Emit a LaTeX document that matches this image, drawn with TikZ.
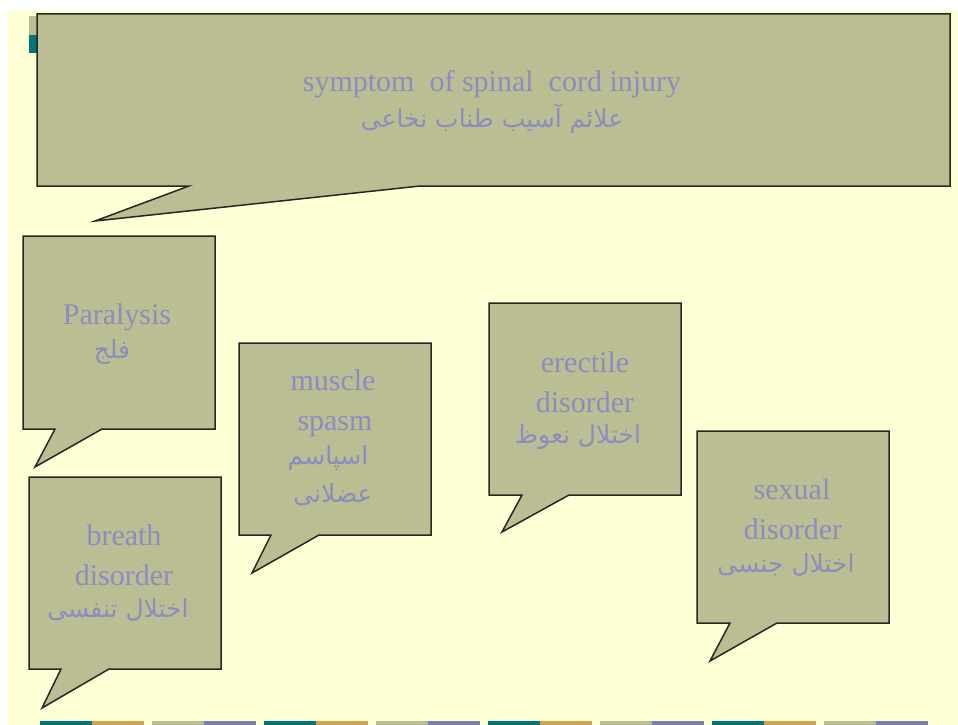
\documentclass[tikz,border=0pt]{standalone}
\usepackage{fontspec}
\setmainfont{Liberation Serif}
\newfontfamily\arabicfont[Script=Arabic]{DejaVu Sans}
\TeXXeTstate=1
\definecolor{bgyellow}{RGB}{255,255,213}
\definecolor{calfill}{RGB}{187,190,146}
\definecolor{txtpurple}{RGB}{140,140,192}
\definecolor{stripteal}{RGB}{0,118,118}
\definecolor{striptan}{RGB}{208,162,82}
\definecolor{stripgray}{RGB}{187,190,146}
\definecolor{strippurple}{RGB}{128,126,176}
\tikzset{
  calloutbox/.style={fill=calfill, draw=black!85, line width=1.5pt, line join=miter},
  en/.style={text=txtpurple, inner sep=0pt, anchor=base, font=\fontsize{30}{34}\selectfont},
  fa/.style={text=txtpurple, inner sep=0pt, font=\arabicfont\fontsize{25}{30}\selectfont},
}
\begin{document}
\begin{tikzpicture}[x=1pt,y=-1pt]
\useasboundingbox (0,0) rectangle (958,725);
% background
\fill[white] (0,0) rectangle (958,725);
\fill[bgyellow] (8,10) rectangle (958,725);
% small partly hidden marks top left
\fill[stripgray] (29,16) rectangle (38,35);
\fill[stripteal] (29,35) rectangle (38,53);
% bottom strip
\foreach \x/\ca/\cb in {40/stripteal/striptan,152/stripgray/strippurple,264/stripteal/striptan,376/stripgray/strippurple,488/stripteal/striptan,600/stripgray/strippurple,712/stripteal/striptan,824/stripgray/strippurple}{
  \fill[\ca] (\x,721) rectangle ++(52,4);
  \fill[\cb] (\x+52,721) rectangle ++(52,4);
}
% big callout
\draw[calloutbox] (37,14) -- (950,14) -- (950,186) -- (420,186) -- (95,221) -- (189,186) -- (37,186) -- cycle;
% paralysis
\draw[calloutbox] (23,236) -- (215,236) -- (215,429) -- (102,429) -- (35,467) -- (55,429) -- (23,429) -- cycle;
% muscle spasm
\draw[calloutbox] (239,343) -- (431,343) -- (431,535) -- (319,535) -- (252,573) -- (271,535) -- (239,535) -- cycle;
% erectile
\draw[calloutbox] (489,303) -- (681,303) -- (681,495) -- (569,495) -- (502,532) -- (522,495) -- (489,495) -- cycle;
% sexual
\draw[calloutbox] (697,431) -- (889,431) -- (889,623) -- (777,623) -- (710,661) -- (730,623) -- (697,623) -- cycle;
% breath
\draw[calloutbox] (29,477) -- (221,477) -- (221,669) -- (109,669) -- (42,708) -- (61,669) -- (29,669) -- cycle;
% texts
\node[en] (t1) at (492,91) {symptom\ \ of spinal\ \ cord injury};
\node[fa] (t2) at (492,119) {\beginR علائم آسیب طناب نخاعی\endR};
\node[en] (p1) at (117,324) {Paralysis};
\node[fa] (p2) at (112,352) {\beginR فلج\endR};
\node[en] (m1) at (333,390) {muscle};
\node[en] (m2) at (335,430) {spasm};
\node[fa] (m3) at (328,458) {\beginR اسپاسم\endR};
\node[fa] (m4) at (333,495) {\beginR عضلانی\endR};
\node[en] (e1) at (585,372) {erectile};
\node[en] (e2) at (585,412) {disorder};
\node[fa] (e3) at (578,437) {\beginR اختلال نعوظ\endR};
\node[en] (s1) at (792,499) {sexual};
\node[en] (s2) at (793,539) {disorder};
\node[fa] (s3) at (786,565) {\beginR اختلال جنسی\endR};
\node[en] (b1) at (124,545) {breath};
\node[en] (b2) at (124,585) {disorder};
\node[fa] (b3) at (118,610) {\beginR اختلال تنفسی\endR};
\end{tikzpicture}
\end{document}
